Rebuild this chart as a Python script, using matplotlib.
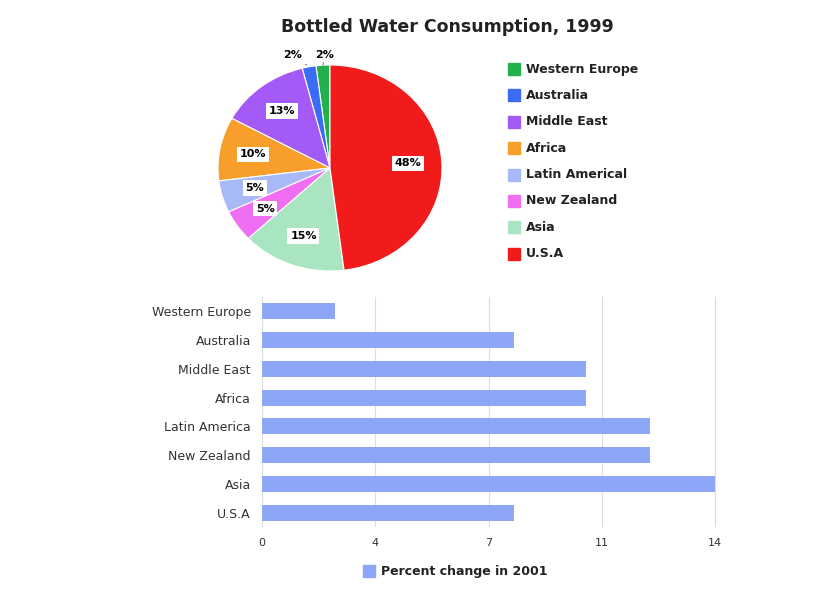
import matplotlib
matplotlib.use("Agg")
import matplotlib.pyplot as plt
import numpy as np

regions = ["Western Europe", "Australia", "Middle East", "Africa", "Latin Americal", "New Zealand", "Asia", "U.S.A"]
shares = [2, 2, 13, 10, 5, 5, 15, 48]
pie_colors = ["#22b14c", "#3a6cf4", "#a35af6", "#f89e2a", "#a7b9f6", "#f06ef1", "#a9e5c1", "#f11b1b"]

bar_regions = ["Western Europe", "Australia", "Middle East", "Africa", "Latin America", "New Zealand", "Asia", "U.S.A"]
bar_values = [2.25, 7.8, 10.0, 10.0, 12.0, 12.0, 14.0, 7.8]
xticks = [0, 3.5, 7, 10.5, 14]
xtick_labels = ["0", "4", "7", "11", "14"]

W, H = 833, 607
fig = plt.figure(figsize=(W/100, H/100), dpi=100)

fig.text(447/W, 1-27/H, "Bottled Water Consumption, 1999", ha="center", va="center",
         fontsize=12.5, fontweight="bold", color="#222222")

# pie
rx, ry = 112, 103
axp = fig.add_axes([(330-rx)/W, 1-(168+ry)/H, 2*rx/W, 2*ry/H])
wedges, _ = axp.pie(shares, colors=pie_colors, startangle=90, counterclock=True,
                    wedgeprops=dict(linewidth=0.8, edgecolor="white"))
axp.set_xlim(-1, 1)
axp.set_ylim(-1, 1)
axp.set_aspect("auto")
for w, s in zip(wedges, shares):
    ang = np.deg2rad((w.theta1 + w.theta2) / 2)
    if s <= 2:
        continue
    rr = 0.7
    axp.text(rr*np.cos(ang), rr*np.sin(ang), f"{s}%", ha="center", va="center", fontsize=8,
             fontweight="bold", bbox=dict(boxstyle="square,pad=0.25", fc="white", ec="none"))
# small slices with outside labels
for w, s, tx in zip(wedges[:2], shares[:2], [-0.05, -0.33]):
    ang = np.deg2rad((w.theta1 + w.theta2) / 2)
    x0, y0 = np.cos(ang), np.sin(ang)
    axp.annotate(f"{s}%", xy=(x0, y0), xytext=(tx, 1.1),
                 ha="center", va="center", fontsize=8, fontweight="bold", annotation_clip=False,
                 arrowprops=dict(arrowstyle="-", lw=0.6, color="#555555"))

# pie legend
for i, (lab, c) in enumerate(zip(regions, pie_colors)):
    y = 69 + i*26.4
    fig.patches.append(plt.Rectangle((508/W, 1-(y+6)/H), 12/W, 12/H, transform=fig.transFigure,
                                     color=c))
    fig.text(526/W, 1-y/H, lab, ha="left", va="center", fontsize=9, fontweight="bold", color="#222222")

# bar chart
axb = fig.add_axes([262/W, 1-527/H, (750-262)/W, (527-297)/H])
y = np.arange(len(bar_regions))
axb.barh(y, bar_values, height=0.56, color="#8ea6f8")
axb.set_ylim(len(bar_regions)-0.5, -0.5)
axb.set_xlim(0, 14*(750-262)/(715-262))
axb.set_yticks(y)
axb.set_yticklabels(bar_regions, fontsize=9, color="#333333")
axb.set_xticks(xticks)
axb.set_xticklabels(xtick_labels, fontsize=8, color="#333333")
axb.tick_params(length=0, pad=8)
axb.grid(axis="x", color="#dddddd", lw=0.8)
axb.set_axisbelow(True)
for s in axb.spines.values():
    s.set_visible(False)

fig.patches.append(plt.Rectangle((363/W, 1-(571+6)/H), 12/W, 12/H, transform=fig.transFigure,
                                 color="#8ea6f8"))
fig.text(381/W, 1-571/H, "Percent change in 2001", ha="left", va="center", fontsize=9,
         fontweight="bold", color="#222222")

fig.savefig("out.png", dpi=100, facecolor="white")
